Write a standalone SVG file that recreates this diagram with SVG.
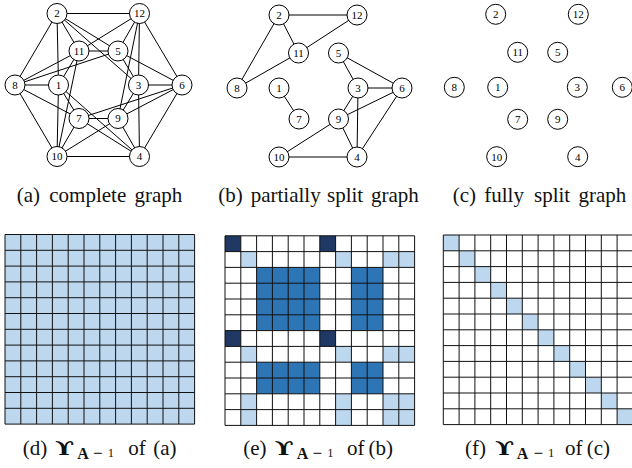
<svg xmlns="http://www.w3.org/2000/svg" xmlns:xlink="http://www.w3.org/1999/xlink" width="632" height="468" viewBox="0 0 632 468">
<style>
.e line{stroke:#000;stroke-width:1}
.n circle{fill:#fff;stroke:#000;stroke-width:1}
.n text{font-family:"Liberation Serif","Times New Roman",serif;font-size:11px;text-anchor:middle;fill:#000}
.cap{font-family:"Liberation Serif","Times New Roman",serif;font-size:21px;fill:#111}
.ups{font-family:"DejaVu Serif","Liberation Serif",serif;font-weight:bold;font-size:18px;fill:#111}
.bA{font-family:"Liberation Serif",serif;font-weight:bold;font-size:16px}
.mn{font-family:"DejaVu Sans",sans-serif;font-size:12.5px}
.one{font-family:"Liberation Serif",serif;font-size:12.5px}
.lt{fill:#bdd7ee}
.md{fill:#2e75b6}
.dk{fill:#1f3864}
.grid{fill:none;stroke:#111;stroke-width:1}
</style>
<defs>
<path id="gridpath" class="grid" d="M0 0V189.6M15.8 0V189.6M31.6 0V189.6M47.4 0V189.6M63.2 0V189.6M79 0V189.6M94.8 0V189.6M110.6 0V189.6M126.4 0V189.6M142.2 0V189.6M158 0V189.6M173.8 0V189.6M189.6 0V189.6M0 0H189.6M0 15.8H189.6M0 31.6H189.6M0 47.4H189.6M0 63.2H189.6M0 79H189.6M0 94.8H189.6M0 110.6H189.6M0 126.4H189.6M0 142.2H189.6M0 158H189.6M0 173.8H189.6M0 189.6H189.6"/>
<rect id="cell" width="15.8" height="15.8"/>
</defs>

<!-- Graph (a) -->
<g id="graph-a">
<g id="a-edges" class="e">
<line x1="57" y1="13.5" x2="139.5" y2="13.5"/>
<line x1="139.5" y1="156.5" x2="57" y2="156.5"/>
<line x1="57" y1="13.5" x2="15" y2="85"/>
<line x1="139.5" y1="156.5" x2="182" y2="85"/>
<line x1="57" y1="13.5" x2="79" y2="51"/>
<line x1="139.5" y1="156.5" x2="118" y2="118.5"/>
<line x1="57" y1="13.5" x2="58.5" y2="85"/>
<line x1="139.5" y1="156.5" x2="138.5" y2="85"/>
<line x1="57" y1="13.5" x2="118" y2="51"/>
<line x1="139.5" y1="156.5" x2="79" y2="118.5"/>
<line x1="57" y1="13.5" x2="138.5" y2="85"/>
<line x1="139.5" y1="156.5" x2="58.5" y2="85"/>
<line x1="139.5" y1="13.5" x2="182" y2="85"/>
<line x1="57" y1="156.5" x2="15" y2="85"/>
<line x1="139.5" y1="13.5" x2="79" y2="51"/>
<line x1="57" y1="156.5" x2="118" y2="118.5"/>
<line x1="139.5" y1="13.5" x2="118" y2="51"/>
<line x1="57" y1="156.5" x2="79" y2="118.5"/>
<line x1="139.5" y1="13.5" x2="138.5" y2="85"/>
<line x1="57" y1="156.5" x2="58.5" y2="85"/>
<line x1="139.5" y1="13.5" x2="118" y2="118.5"/>
<line x1="57" y1="156.5" x2="79" y2="51"/>
<line x1="15" y1="85" x2="79" y2="51"/>
<line x1="182" y1="85" x2="118" y2="118.5"/>
<line x1="15" y1="85" x2="118" y2="51"/>
<line x1="182" y1="85" x2="79" y2="118.5"/>
<line x1="15" y1="85" x2="58.5" y2="85"/>
<line x1="182" y1="85" x2="138.5" y2="85"/>
<line x1="79" y1="51" x2="118" y2="51"/>
<line x1="118" y1="118.5" x2="79" y2="118.5"/>
<line x1="58.5" y1="85" x2="79" y2="118.5"/>
<line x1="138.5" y1="85" x2="118" y2="51"/>
<line x1="58.5" y1="85" x2="79" y2="51"/>
<line x1="138.5" y1="85" x2="118" y2="118.5"/>
<line x1="15" y1="85" x2="79" y2="118.5"/>
<line x1="182" y1="85" x2="118" y2="51"/>
</g>
<g id="a-n1" class="n"><circle cx="58.5" cy="85" r="10"/><text x="58.5" y="88.8">1</text></g>
<g id="a-n2" class="n"><circle cx="57" cy="13.5" r="10"/><text x="57" y="17.3">2</text></g>
<g id="a-n3" class="n"><circle cx="138.5" cy="85" r="10"/><text x="138.5" y="88.8">3</text></g>
<g id="a-n4" class="n"><circle cx="139.5" cy="156.5" r="10"/><text x="139.5" y="160.3">4</text></g>
<g id="a-n5" class="n"><circle cx="118" cy="51" r="10"/><text x="118" y="54.8">5</text></g>
<g id="a-n6" class="n"><circle cx="182" cy="85" r="10"/><text x="182" y="88.8">6</text></g>
<g id="a-n7" class="n"><circle cx="79" cy="118.5" r="10"/><text x="79" y="122.3">7</text></g>
<g id="a-n8" class="n"><circle cx="15" cy="85" r="10"/><text x="15" y="88.8">8</text></g>
<g id="a-n9" class="n"><circle cx="118" cy="118.5" r="10"/><text x="118" y="122.3">9</text></g>
<g id="a-n10" class="n"><circle cx="57" cy="156.5" r="10"/><text x="57" y="160.3">10</text></g>
<g id="a-n11" class="n"><circle cx="79" cy="51" r="10"/><text x="79" y="54.8">11</text></g>
<g id="a-n12" class="n"><circle cx="139.5" cy="13.5" r="10"/><text x="139.5" y="17.3">12</text></g>
</g>

<!-- Graph (b) -->
<g id="graph-b">
<g id="b-edges" class="e">
<line x1="279" y1="15" x2="357" y2="15"/>
<line x1="279" y1="15" x2="298.5" y2="53"/>
<line x1="279" y1="15" x2="237" y2="88"/>
<line x1="298.5" y1="53" x2="357" y2="15"/>
<line x1="298.5" y1="53" x2="237" y2="88"/>
<line x1="279" y1="88" x2="299" y2="119"/>
<line x1="338.5" y1="53" x2="358" y2="88"/>
<line x1="338.5" y1="53" x2="402" y2="88"/>
<line x1="358" y1="88" x2="402" y2="88"/>
<line x1="358" y1="88" x2="338.5" y2="119"/>
<line x1="358" y1="88" x2="357" y2="157"/>
<line x1="338.5" y1="119" x2="402" y2="88"/>
<line x1="338.5" y1="119" x2="357" y2="157"/>
<line x1="338.5" y1="119" x2="279" y2="157"/>
<line x1="279" y1="157" x2="357" y2="157"/>
<line x1="357" y1="157" x2="402" y2="88"/>
</g>
<g id="b-n1" class="n"><circle cx="279" cy="88" r="10"/><text x="279" y="91.8">1</text></g>
<g id="b-n2" class="n"><circle cx="279" cy="15" r="10"/><text x="279" y="18.8">2</text></g>
<g id="b-n3" class="n"><circle cx="358" cy="88" r="10"/><text x="358" y="91.8">3</text></g>
<g id="b-n4" class="n"><circle cx="357" cy="157" r="10"/><text x="357" y="160.8">4</text></g>
<g id="b-n5" class="n"><circle cx="338.5" cy="53" r="10"/><text x="338.5" y="56.8">5</text></g>
<g id="b-n6" class="n"><circle cx="402" cy="88" r="10"/><text x="402" y="91.8">6</text></g>
<g id="b-n7" class="n"><circle cx="299" cy="119" r="10"/><text x="299" y="122.8">7</text></g>
<g id="b-n8" class="n"><circle cx="237" cy="88" r="10"/><text x="237" y="91.8">8</text></g>
<g id="b-n9" class="n"><circle cx="338.5" cy="119" r="10"/><text x="338.5" y="122.8">9</text></g>
<g id="b-n10" class="n"><circle cx="279" cy="157" r="10"/><text x="279" y="160.8">10</text></g>
<g id="b-n11" class="n"><circle cx="298.5" cy="53" r="10"/><text x="298.5" y="56.8">11</text></g>
<g id="b-n12" class="n"><circle cx="357" cy="15" r="10"/><text x="357" y="18.8">12</text></g>
</g>

<!-- Graph (c) -->
<g id="graph-c">
<g id="c-edges" class="e"></g>
<g id="c-n1" class="n"><circle cx="497.7" cy="87.3" r="10"/><text x="497.7" y="91.1">1</text></g>
<g id="c-n2" class="n"><circle cx="495.7" cy="14.3" r="10"/><text x="495.7" y="18.1">2</text></g>
<g id="c-n3" class="n"><circle cx="577.3" cy="87.3" r="10"/><text x="577.3" y="91.1">3</text></g>
<g id="c-n4" class="n"><circle cx="577.7" cy="156.7" r="10"/><text x="577.7" y="160.5">4</text></g>
<g id="c-n5" class="n"><circle cx="557.7" cy="52.3" r="10"/><text x="557.7" y="56.1">5</text></g>
<g id="c-n6" class="n"><circle cx="622.3" cy="87.3" r="10"/><text x="622.3" y="91.1">6</text></g>
<g id="c-n7" class="n"><circle cx="517.7" cy="119.3" r="10"/><text x="517.7" y="123.1">7</text></g>
<g id="c-n8" class="n"><circle cx="454.3" cy="87.3" r="10"/><text x="454.3" y="91.1">8</text></g>
<g id="c-n9" class="n"><circle cx="557.7" cy="119.3" r="10"/><text x="557.7" y="123.1">9</text></g>
<g id="c-n10" class="n"><circle cx="496.7" cy="156.7" r="10"/><text x="496.7" y="160.5">10</text></g>
<g id="c-n11" class="n"><circle cx="517.7" cy="52.3" r="10"/><text x="517.7" y="56.1">11</text></g>
<g id="c-n12" class="n"><circle cx="578.3" cy="14.3" r="10"/><text x="578.3" y="18.1">12</text></g>
</g>

<!-- Captions top -->
<text id="cap-a" class="cap" y="202"><tspan x="16.7">(a)</tspan><tspan x="49.3">complete</tspan><tspan x="134.5">graph</tspan></text>
<text id="cap-b" class="cap" y="202"><tspan x="218.3">(b)</tspan><tspan x="250.7">partially</tspan><tspan x="327">split</tspan><tspan x="371">graph</tspan></text>
<text id="cap-c" class="cap" y="202"><tspan x="452.7">(c)</tspan><tspan x="484.3">fully</tspan><tspan x="534">split</tspan><tspan x="578.5">graph</tspan></text>

<!-- Matrix (d) -->
<g id="matrix-d" transform="translate(5,234.5)">
<rect class="lt" width="189.6" height="189.6"/>
<use xlink:href="#gridpath"/>
</g>

<!-- Matrix (e) -->
<g id="matrix-e" transform="translate(225,235.8)">
<rect fill="#fff" width="189.6" height="189.6"/>
<rect class="dk" x="0" y="0" width="15.8" height="15.8"/>
<rect class="dk" x="94.8" y="0" width="15.8" height="15.8"/>
<rect class="dk" x="0" y="94.8" width="15.8" height="15.8"/>
<rect class="dk" x="94.8" y="94.8" width="15.8" height="15.8"/>
<rect class="md" x="31.6" y="31.6" width="63.2" height="63.2"/>
<rect class="md" x="126.4" y="31.6" width="31.6" height="63.2"/>
<rect class="md" x="31.6" y="126.4" width="63.2" height="31.6"/>
<rect class="md" x="126.4" y="126.4" width="31.6" height="31.6"/>
<rect class="lt" x="15.8" y="15.8" width="15.8" height="15.8"/>
<rect class="lt" x="110.6" y="15.8" width="15.8" height="15.8"/>
<rect class="lt" x="158" y="15.8" width="31.6" height="15.8"/>
<rect class="lt" x="15.8" y="110.6" width="15.8" height="15.8"/>
<rect class="lt" x="110.6" y="110.6" width="15.8" height="15.8"/>
<rect class="lt" x="158" y="110.6" width="31.6" height="15.8"/>
<rect class="lt" x="15.8" y="158" width="15.8" height="31.6"/>
<rect class="lt" x="110.6" y="158" width="15.8" height="31.6"/>
<rect class="lt" x="158" y="158" width="31.6" height="31.6"/>
<use xlink:href="#gridpath"/>
</g>

<!-- Matrix (f) -->
<g id="matrix-f" transform="translate(443.3,235)">
<rect fill="#fff" width="189.6" height="189.6"/>
<use xlink:href="#cell" class="lt" x="0" y="0"/>
<use xlink:href="#cell" class="lt" x="15.8" y="15.8"/>
<use xlink:href="#cell" class="lt" x="31.6" y="31.6"/>
<use xlink:href="#cell" class="lt" x="47.4" y="47.4"/>
<use xlink:href="#cell" class="lt" x="63.2" y="63.2"/>
<use xlink:href="#cell" class="lt" x="79" y="79"/>
<use xlink:href="#cell" class="lt" x="94.8" y="94.8"/>
<use xlink:href="#cell" class="lt" x="110.6" y="110.6"/>
<use xlink:href="#cell" class="lt" x="126.4" y="126.4"/>
<use xlink:href="#cell" class="lt" x="142.2" y="142.2"/>
<use xlink:href="#cell" class="lt" x="158" y="158"/>
<use xlink:href="#cell" class="lt" x="173.8" y="173.8"/>
<use xlink:href="#gridpath"/>
</g>

<!-- Captions bottom -->
<g id="cap-d">
<text class="cap" y="455"><tspan x="22.7">(d)</tspan></text>
<text class="ups" transform="translate(55,455) scale(1.4,1)">ϒ</text>
<text class="cap" y="455"><tspan x="77.3" y="459" class="bA">A</tspan><tspan x="92.7" y="456.5" class="mn">−</tspan><tspan x="107.8" y="456.5" class="one">1</tspan><tspan x="128.3" y="455">of</tspan><tspan x="153.3" y="455">(a)</tspan></text>
</g>
<g id="cap-e">
<text class="cap" y="455"><tspan x="243.3">(e)</tspan></text>
<text class="ups" transform="translate(274.5,455) scale(1.4,1)">ϒ</text>
<text class="cap" y="455"><tspan x="296.8" y="459" class="bA">A</tspan><tspan x="312.2" y="456.5" class="mn">−</tspan><tspan x="327.3" y="456.5" class="one">1</tspan><tspan x="347" y="455">of</tspan><tspan x="368.5" y="455">(b)</tspan></text>
</g>
<g id="cap-f">
<text class="cap" y="455"><tspan x="465">(f)</tspan></text>
<text class="ups" transform="translate(495,455) scale(1.4,1)">ϒ</text>
<text class="cap" y="455"><tspan x="516.7" y="459" class="bA">A</tspan><tspan x="533.3" y="456.5" class="mn">−</tspan><tspan x="548" y="456.5" class="one">1</tspan><tspan x="565" y="455">of</tspan><tspan x="586.7" y="455">(c)</tspan></text>
</g>
</svg>
